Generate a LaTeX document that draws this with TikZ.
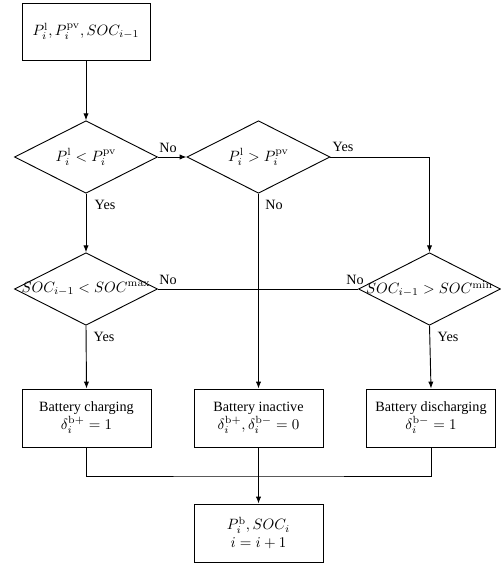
\documentclass[tikz,border=0pt]{standalone}
\usepackage[no-math]{fontspec}
\setmainfont{Liberation Serif}[Scale=0.95]
\usetikzlibrary{shapes.geometric,arrows.meta}
\begin{document}
\begin{tikzpicture}[x=0.67pt,y=-0.67pt, line width=0.62pt,
  box/.style={draw, minimum width=86.43pt, minimum height=38.86pt, inner sep=0pt, align=center},
  dia/.style={draw, diamond, minimum width=95.81pt, minimum height=48.58pt, inner sep=0pt},
  arr/.style={-{Latex[length=4.6pt,width=3.5pt]}},
  lab/.style={inner sep=1pt}]
\useasboundingbox (0,0) rectangle (500,565);
\node[box, minimum width=85.76pt, minimum height=38.19pt] (in) at (86,31.5) {$P_i^{\mathrm{l}}, P_i^{\mathrm{pv}}, SOC_{i-1}$};
\node[dia] (d1) at (86,157) {};
\node[dia] (d2) at (258.5,157) {};
\node[dia] (d3) at (86,289) {};
\node[dia, minimum width=95.14pt] (d4) at (429.5,289) {};
\node (t1) at (d1.center) {$P_i^{\mathrm{l}} < P_i^{\mathrm{pv}}$};
\node (t2) at (d2.center) {$P_i^{\mathrm{l}} > P_i^{\mathrm{pv}}$};
\node[inner sep=0pt] (t3) at (d3.center) {$SOC_{i-1} < SOC^{\mathrm{max}}$};
\node[inner sep=0pt] (t4) at (d4.center) {$SOC_{i-1} > SOC^{\mathrm{min}}$};
\node[box] (b1) at (86.5,418) {Battery charging\\$\delta_i^{\mathrm{b}+} = 1$};
\node[box] (b2) at (258.5,418) {Battery inactive\\$\delta_i^{\mathrm{b}+}, \delta_i^{\mathrm{b}-} = 0$};
\node[box] (b3) at (431,418) {Battery discharging\\$\delta_i^{\mathrm{b}-} = 1$};
\node[box] (b5) at (258.5,533) {$P_i^{\mathrm{b}}, SOC_i$\\$i = i+1$};
\node[lab] (l1) at (168,148) {No};
\node[lab] (l2) at (105,205) {Yes};
\node[lab] (l3) at (343,147) {Yes};
\node[lab] (l4) at (274,205) {No};
\node[lab] (l5) at (168,280) {No};
\node[lab] (l6) at (355,280) {No};
\node[lab] (l7) at (104,337) {Yes};
\node[lab] (l8) at (448,337) {Yes};
\coordinate (m) at (258.5,476);
\draw[arr] (in.south) -- (d1.north);
\draw[arr] (d1.east) -- (d2.west);
\draw[arr] (d2.east) -| (d4.north);
\draw[arr] (d1.south) -- (d3.north);
\draw[arr] (d2.south) -- (b2.north);
\draw (d3.east) -- (d4.west);
\draw[arr] (d3.south) -- (b1.north);
\draw[arr] (d4.south) -- (b3.north);
\draw (b1.south) |- (m) -| (b3.south);
\draw[arr] (b2.south) -- (b5.north);
\end{tikzpicture}
\end{document}
